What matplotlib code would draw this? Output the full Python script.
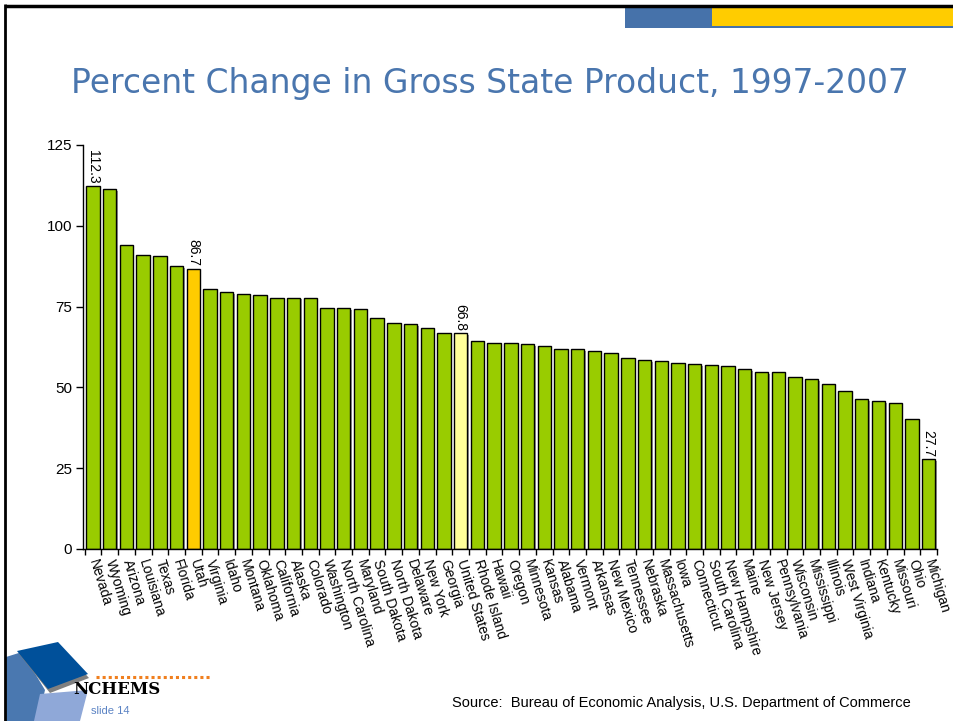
import matplotlib
matplotlib.use("Agg")
import matplotlib.pyplot as plt
from matplotlib.patches import Polygon, Rectangle

states = ["Nevada", "Wyoming", "Arizona", "Louisiana", "Texas", "Florida", "Utah",
          "Virginia", "Idaho", "Montana", "Oklahoma", "California", "Alaska",
          "Colorado", "Washington", "North Carolina", "Maryland", "South Dakota",
          "North Dakota", "Delaware", "New York", "Georgia", "United States",
          "Rhode Island", "Hawaii", "Oregon", "Minnesota", "Kansas", "Alabama",
          "Vermont", "Arkansas", "New Mexico", "Tennessee", "Nebraska",
          "Massachusetts", "Iowa", "Connecticut", "South Carolina", "New Hampshire",
          "Maine", "New Jersey", "Pennsylvania", "Wisconsin", "Mississippi",
          "Illinois", "West Virginia", "Indiana", "Kentucky", "Missouri", "Ohio",
          "Michigan"]
pct_change = [112.3, 111.5, 94.0, 90.9, 90.6, 87.6, 86.7,
              80.5, 79.5, 79.0, 78.6, 77.8, 77.8,
              77.8, 74.5, 74.5, 74.3, 71.4,
              70.0, 69.5, 68.5, 66.9, 66.8,
              64.5, 63.8, 63.8, 63.5, 62.8, 61.9,
              61.9, 61.2, 60.5, 59.0, 58.6,
              58.3, 57.4, 57.1, 56.9, 56.6,
              55.7, 54.7, 54.7, 53.3, 52.7,
              50.9, 48.8, 46.4, 45.7, 45.1, 40.2,
              27.7]
labelled = ["Nevada", "Utah", "United States", "Michigan"]
yticks = [0, 25, 50, 75, 100, 125]

GREEN = "#99CC00"
colors = []
for s in states:
    if s == "Utah":
        colors.append("#FFCC00")
    elif s == "United States":
        colors.append("#FFFF99")
    else:
        colors.append(GREEN)

fig = plt.figure(figsize=(9.54, 7.21), dpi=100)

# slide decoration layer in pixel coordinates
deco = fig.add_axes([0, 0, 1, 1])
deco.set_xlim(0, 954)
deco.set_ylim(721, 0)
deco.axis("off")
deco.plot([5, 954], [5.5, 5.5], color="black", lw=2.5, solid_capstyle="butt")
deco.plot([5, 5], [4, 721], color="black", lw=2, solid_capstyle="butt")
deco.add_patch(Rectangle((625, 7), 87, 21, color="#4672AA", lw=0))
deco.add_patch(Rectangle((712, 7), 242, 21, color="#4672AA", lw=0))
deco.add_patch(Rectangle((712, 7), 242, 19, color="#FFCC00", lw=0))

# logo
deco.add_patch(Polygon([(6, 657), (22, 652), (45, 690), (38, 721), (6, 721)],
                       color="#4A78B0", lw=0))
deco.add_patch(Polygon([(40, 694), (88, 690), (80, 721), (34, 721)],
                       color="#8FA8D8", lw=0))
deco.add_patch(Polygon([(19, 654), (59, 645), (89, 678), (50, 693)],
                       color="#7F7F7F", lw=0))
deco.add_patch(Polygon([(17, 651), (58, 642), (88, 674), (48, 689)],
                       color="#00509A", lw=0))
deco.plot([96, 212], [677, 677], color="#F07F1E", lw=2.2, ls=(0, (1, 1)))
deco.text(73, 690, "NCHEMS", fontsize=12, fontweight="bold", family="DejaVu Serif",
          color="black", va="center", ha="left")
deco.text(91, 711, "slide 14", fontsize=8, color="#5B83C4", va="center", ha="left",
          family="Liberation Sans")

fig.text(490 / 954, 1 - 83 / 721, "Percent Change in Gross State Product, 1997-2007",
         ha="center", va="center", fontsize=23.7, color="#4A76AE", family="DejaVu Sans")
fig.text(452 / 954, 1 - 703 / 721,
         "Source:  Bureau of Economic Analysis, U.S. Department of Commerce",
         ha="left", va="center", fontsize=10.5, family="Liberation Sans")

ax = fig.add_axes([83 / 954, 1 - 549 / 721, 854 / 954, 404 / 721])
x = list(range(len(states)))
# soft shadow behind each bar
ax.bar([i + 0.08 for i in x], pct_change, width=0.8, color="#9A9A9A", lw=0,
       bottom=-0.6, zorder=1)
ax.bar(x, pct_change, width=0.8, color=colors, edgecolor="black", lw=1, zorder=2)

for i, (s, v) in enumerate(zip(states, pct_change)):
    if s in labelled:
        ax.text(i, v + 0.8, f"{v:.1f}", rotation=-90, ha="center", va="bottom",
                fontsize=10, family="Liberation Sans")

ax.set_xlim(-0.6, 50.5)
ax.set_ylim(0, 125)
ax.set_yticks(yticks)
ax.set_yticklabels([str(t) for t in yticks], fontsize=11, family="Liberation Sans")
ax.set_xticks(x)
ax.set_xticklabels(states, rotation=-73, ha="left", va="center",
                   rotation_mode="anchor", fontsize=10, family="Liberation Sans")
ax.tick_params(axis="x", length=0, pad=8)
ax.set_xticks([i - 0.5 for i in range(len(states) + 1)], minor=True)
ax.tick_params(axis="x", which="minor", length=4, color="black", width=1)
ax.tick_params(axis="y", length=5, width=1, pad=3)
for side in ["top", "right"]:
    ax.spines[side].set_visible(False)
ax.spines["left"].set_linewidth(1)
ax.spines["bottom"].set_linewidth(1)
ax.spines["bottom"].set_zorder(3)

fig.savefig("out.png", dpi=100)
